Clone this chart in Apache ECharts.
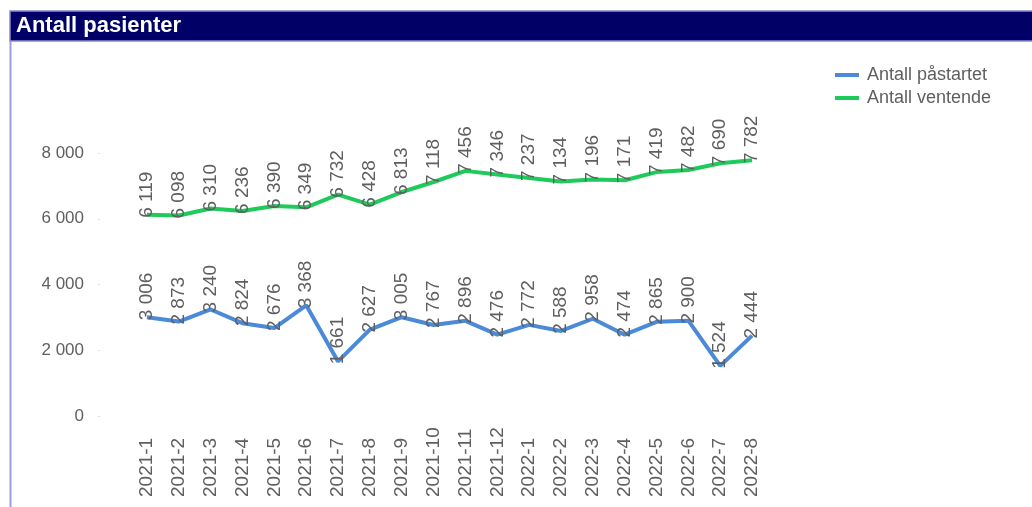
<!DOCTYPE html>
<html>
<head>
<meta charset="utf-8">
<script src="https://cdn.jsdelivr.net/npm/echarts@6/dist/echarts.min.js"></script>
<style>
html,body{margin:0;padding:0;background:#fff;}
#c{width:1032px;height:507px;}
</style>
</head>
<body>
<div id="c"></div>
<script>
var categories = ['2021-1','2021-2','2021-3','2021-4','2021-5','2021-6','2021-7','2021-8','2021-9','2021-10','2021-11','2021-12','2022-1','2022-2','2022-3','2022-4','2022-5','2022-6','2022-7','2022-8'];
var paastartet = [3006,2873,3240,2824,2676,3368,1661,2627,3005,2767,2896,2476,2772,2588,2958,2474,2865,2900,1524,2444];
var ventende = [6119,6098,6310,6236,6390,6349,6732,6428,6813,7118,7456,7346,7237,7134,7196,7171,7419,7482,7690,7782];
var yTicks = [0,2000,4000,6000,8000];

function fmt(v){ return String(v).replace(/\B(?=(\d{3})+(?!\d))/g,' '); }

var chart = echarts.init(document.getElementById('c'));
var font = 'Liberation Sans, Arial, sans-serif';
var labelCfg = {
  show: true, position: 'top', rotate: 90, align: 'left', verticalAlign: 'middle',
  distance: -3, color: '#5f5f5f', fontSize: 19, fontFamily: font,
  formatter: function(p){ return fmt(p.value); }
};
var blue = '#4a8ad8', green = '#1ecb5a';
chart.setOption({
  animation: false,
  textStyle: {fontFamily: font},
  graphic: [
    {type:'rect', shape:{x:10,y:11,width:1030,height:30}, style:{fill:'#000066', stroke:'#8a8ad0', lineWidth:1.5}},
    {type:'text', x:16, y:26, style:{text:'Antall pasienter', fill:'#ffffff', font:'bold 22px Liberation Sans, Arial, sans-serif', verticalAlign:'middle'}},
    {type:'line', shape:{x1:10.5,y1:41,x2:10.5,y2:507}, style:{stroke:'#9c9cdc', lineWidth:2}}
  ],
  legend: {
    orient: 'vertical', left: 830, top: 61, itemGap: 5, itemWidth: 24, itemHeight: 4,
    textStyle: {color:'#5f5f5f', fontSize: 18, fontFamily: font, padding: [0,0,0,3]},
    data: [
      {name:'Antall påstartet', icon:'rect', itemStyle:{color: blue, opacity: 1}},
      {name:'Antall ventende', icon:'rect', itemStyle:{color: green, opacity: 1}}
    ]
  },
  grid: {left: 131, right: 264, top: 153, bottom: 91, containLabel: false},
  xAxis: {
    type: 'category', data: categories, boundaryGap: true,
    axisLine: {show:false}, axisTick: {show:false},
    axisLabel: {rotate: 90, margin: 81, align: 'left', color:'#5f5f5f', fontSize: 19, fontFamily: font, interval: 0}
  },
  yAxis: {
    type: 'value', min: 0, max: 8000, interval: 2000, offset: 31,
    splitLine: {show:false}, axisLine: {show:false},
    axisTick: {show:true, length: 2, lineStyle:{color:'#dddddd'}},
    axisLabel: {margin: 16, color:'#5f5f5f', fontSize: 17, fontFamily: font, formatter: function(v){ return fmt(v); }}
  },
  series: [
    {name:'Antall påstartet', type:'line', data: paastartet, symbol:'circle', symbolSize: 0.1, showSymbol: true,
     lineStyle:{color: blue, width:4}, itemStyle:{color: blue}, label: labelCfg},
    {name:'Antall ventende', type:'line', data: ventende, symbol:'circle', symbolSize: 0.1, showSymbol: true,
     lineStyle:{color: green, width:4}, itemStyle:{color: green}, label: labelCfg}
  ]
});
</script>
</body>
</html>
